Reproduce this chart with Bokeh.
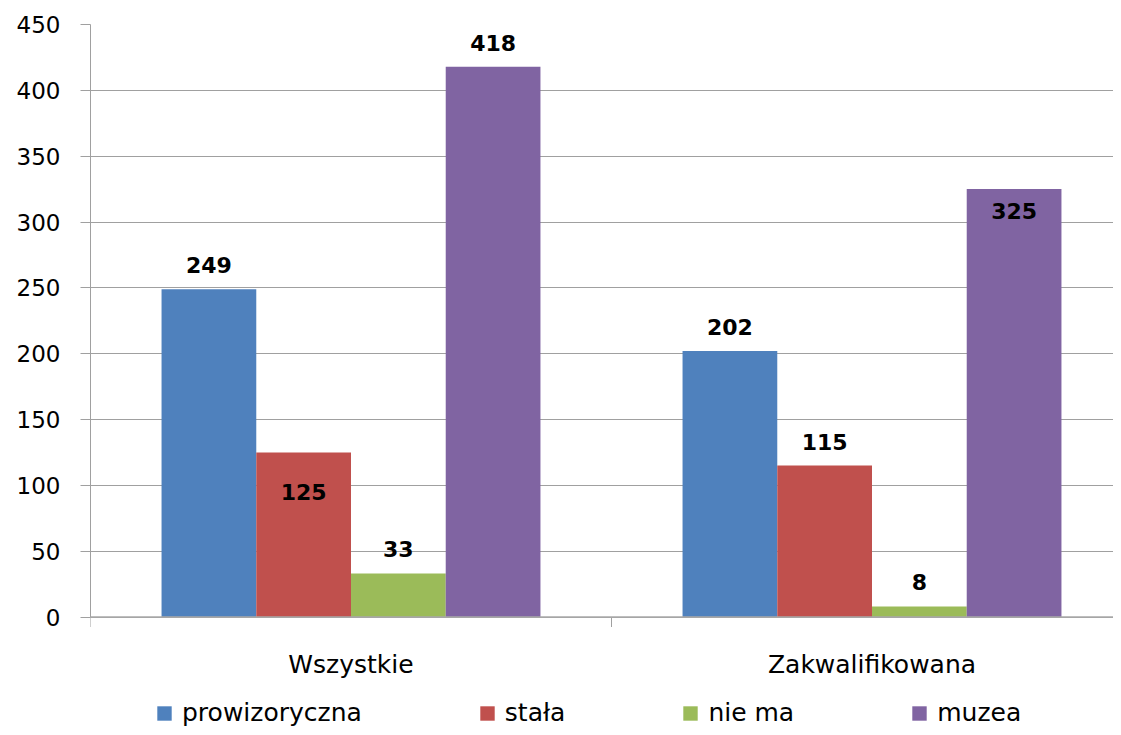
import math
from bokeh.plotting import figure
from bokeh.models import ColumnDataSource, FixedTicker, Legend, LegendItem, Range1d, Span
from bokeh.core.properties import value
from bokeh.embed import file_html
from bokeh.resources import INLINE

# ---- data ----
categories = ["Wszystkie", "Zakwalifikowana"]
series_names = ["prowizoryczna", "stała", "nie ma", "muzea"]
prowizoryczna = [249, 202]
stala = [125, 115]
nie_ma = [33, 8]
muzea = [418, 325]
y_ticks = [0, 50, 100, 150, 200, 250, 300, 350, 400, 450]

# ---- styles ----
colors = ["#4F81BD", "#C0504D", "#9BBB59", "#8064A2"]
# data-label vertical offsets from bar top (screen px, + = down)
label_offsets = [[-24, -24], [40, -24], [-25, -24], [-24, 22]]
FONT = "DejaVu Sans"
AXIS_GRAY = "#a0a0a0"

W, H = 1113, 727
border_left, border_top = 90, 24
value_axis_px = 592.5          # pixel height from 0 to 450
y_max = y_ticks[-1]
ppu = value_axis_px / y_max
frame_h = H - border_top
y_min = y_max - frame_h / ppu  # extra room below 0 for labels and legend

cat_px = 521.0                 # pixel width of one category slot
x_max = (W - border_left) / cat_px

series_values = [prowizoryczna, stala, nie_ma, muzea]
n_series = len(series_values)
bar_w = 1.0 / (n_series + 1.5)

p = figure(width=W, height=H, output_backend="svg", toolbar_location=None,
           x_range=Range1d(0, x_max), y_range=Range1d(y_min, y_max),
           min_border_left=border_left, min_border_right=0,
           min_border_top=border_top, min_border_bottom=0)
p.outline_line_color = None
p.background_fill_color = "white"
p.xaxis.visible = False
p.xgrid.visible = False

# horizontal gridlines
p.ygrid.ticker = FixedTicker(ticks=y_ticks)
p.ygrid.grid_line_color = AXIS_GRAY

renderers = []
cat_centers = [i + 0.5 for i in range(len(categories))]
for si, (vals, col) in enumerate(zip(series_values, colors)):
    off = (si - (n_series - 1) / 2) * bar_w
    xs = [c + off for c in cat_centers]
    src = ColumnDataSource(dict(x=xs, top=vals,
                                lbl=[str(v) for v in vals],
                                yo=label_offsets[si]))
    r = p.vbar(x="x", top="top", bottom=0, width=bar_w, source=src,
               fill_color=col, line_color=None)
    renderers.append(r)
    p.text(x="x", y="top", text="lbl", y_offset="yo", source=src,
           text_align="center", text_baseline="middle",
           text_font=value(FONT), text_font_style="bold",
           text_font_size="22px", text_color="black")

# category axis line, ticks and labels
p.add_layout(Span(location=0, dimension="width", line_color="#a8a8a8", line_width=1.5))
bounds = list(range(len(categories) + 1))
p.ray(x=bounds, y=[0] * len(bounds), length=10, length_units="screen",
      angle=-math.pi / 2, line_color=AXIS_GRAY, line_width=1)
cat_src = ColumnDataSource(dict(x=cat_centers, y=[0] * len(categories), t=categories))
p.text(x="x", y="y", text="t", source=cat_src, y_offset=47,
       text_align="center", text_baseline="middle",
       text_font=value(FONT), text_font_size="25px", text_color="black")

# y axis
p.yaxis.ticker = FixedTicker(ticks=y_ticks)
p.yaxis.bounds = (0, y_max)
p.yaxis.major_label_text_font = FONT
p.yaxis.major_label_text_font_size = "23px"
p.yaxis.major_label_text_color = "black"
p.yaxis.axis_line_color = AXIS_GRAY
p.yaxis.major_tick_line_color = AXIS_GRAY
p.yaxis.major_tick_out = 10
p.yaxis.major_tick_in = 0
p.yaxis.minor_tick_line_color = None
p.yaxis.major_label_standoff = 20

legend = Legend(items=[LegendItem(label=n, renderers=[r]) for n, r in zip(series_names, renderers)],
                orientation="horizontal", location=(65, 0),
                label_text_font=FONT, label_text_font_size="25px",
                label_text_color="black",
                glyph_width=18, glyph_height=18, label_standoff=9,
                spacing=116, padding=0, margin=0,
                border_line_color=None, background_fill_alpha=0)
p.add_layout(legend, "center")

open("out.html", "w").write(file_html(p, INLINE))
